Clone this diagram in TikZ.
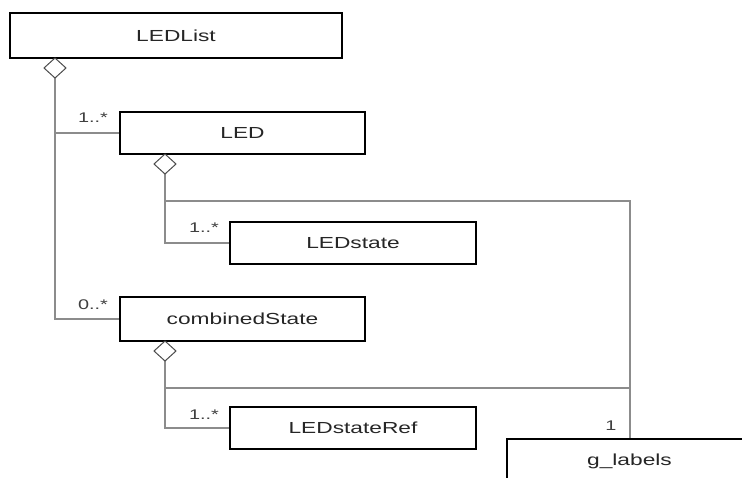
\documentclass[tikz,border=0pt]{standalone}
\usepackage{fontspec}
\usetikzlibrary{calc}
\setmainfont[FakeStretch=1.42]{Liberation Sans}
\begin{document}
\begin{tikzpicture}[x=1pt,y=-1pt,
  cls/.style={draw=black,line width=1.3pt,fill=white,inner sep=0pt,
    font=\fontsize{16}{18}\selectfont,text=black!85},
  conn/.style={draw=black!45,line width=1.1pt},
  agg/.style={draw=black!70,line width=1pt,fill=white},
  mult/.style={inner sep=0pt,font=\fontsize{14}{16}\selectfont,text=black!75}]
\clip (0,0) rectangle (742,477);
\fill[white] (0,0) rectangle (742,477);
% classes
\node[cls,minimum width=332pt,minimum height=45pt] (list) at (176,35.5) {LEDList};
\node[cls,minimum width=245pt,minimum height=42pt] (led) at (242.5,133) {LED};
\node[cls,minimum width=246pt,minimum height=42pt] (ledstate) at (353,243) {LEDstate};
\node[cls,minimum width=245pt,minimum height=44pt] (comb) at (242.5,319) {combinedState};
\node[cls,minimum width=246pt,minimum height=42pt] (ref) at (353,428) {LEDstateRef};
\node[cls,minimum width=245pt,minimum height=44pt] (glab) at (629.5,461) {g\_labels};
% aggregation diamonds
\coordinate (d1t) at (55,58);
\coordinate (d1b) at (55,78);
\coordinate (d2t) at (165,154);
\coordinate (d2b) at (165,174);
\coordinate (d3t) at (165,341);
\coordinate (d3b) at (165,361);
\coordinate (j1) at (55,133);
\coordinate (j2) at (55,319);
\coordinate (j3) at (165,243);
\coordinate (j4) at (165,201);
\coordinate (j5) at (630,201);
\coordinate (j6) at (165,388);
\coordinate (j7) at (630,388);
\coordinate (j8) at (165,428);
% connectors
\draw[conn] (d1b) -- (j2) -- (comb.west);
\draw[conn] (j1) -- (led.west);
\draw[conn] (d2b) -- (j3) -- (ledstate.west);
\draw[conn] (j4) -- (j5) -- (j5 |- glab.north);
\draw[conn] (d3b) -- (j8) -- (ref.west);
\draw[conn] (j6) -- (j7);
\foreach \t/\b in {d1t/d1b,d2t/d2b,d3t/d3b}{
  \draw[agg] (\t) -- ($(\t)!0.5!(\b)+(11,0)$) -- (\b) -- ($(\t)!0.5!(\b)+(-11,0)$) -- cycle;
}
% multiplicities
\node[mult] (m1) at (93,118) {1..*};
\node[mult] (m2) at (93,305) {0..*};
\node[mult] (m3) at (204,228) {1..*};
\node[mult] (m4) at (204,415) {1..*};
\node[mult] (m5) at (611,426) {1};
\end{tikzpicture}
\end{document}
